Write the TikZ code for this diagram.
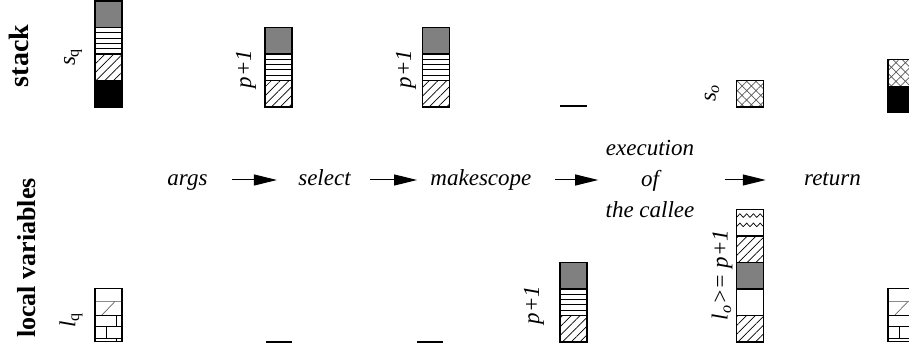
\documentclass[tikz,border=0pt]{standalone}
\usepackage{fontspec}
\setmainfont{Liberation Serif}
\usetikzlibrary{calc, positioning, arrows.meta, patterns.meta}
\tikzset{
    corners/.style={insert path={(path picture bounding box.north west) coordinate (pp1) (path picture bounding box.south east) coordinate (pp2)}},
    seg/.style={rectangle, draw=black, line width=0.55pt, inner sep=0pt, outer sep=0pt, minimum width=13.5pt, minimum height=13.25pt},
    greyseg/.style={seg, fill=black!50},
    blackseg/.style={seg, fill=black},
    plainseg/.style={seg, fill=white},
    hatchseg/.style={seg, pattern={Lines[angle=45, distance=3.1pt, line width=0.35pt]}},
    crossseg/.style={seg, pattern={Hatch[angle=45, distance=3.3pt, line width=0.35pt]}, pattern color=black!65},
    barseg/.style={seg, path picture={
        \path[corners];
        \foreach \k in {0.2,0.4,0.6,0.8}
            \draw[line width=0.5pt] ($(pp1)!\k!(pp1|-pp2)$) -- ($(pp2|-pp1)!\k!(pp2)$);
    }},
    waveseg/.style={seg, path picture={
        \path[corners];
        \foreach \r in {0.3,0.65}
            \draw[line width=0.35pt] ($(pp1)!\r!(pp1|-pp2)$) \foreach \i in {1,...,4} { -- ++(1.6875pt,1.8pt) -- ++(1.6875pt,-1.8pt) };
    }},
    wallseg/.style={seg, path picture={
        \path[corners];
        \draw[black!45, line width=0.5pt] ($(pp1)!0.48!(pp1|-pp2)$) -- ($(pp2|-pp1)!0.48!(pp2)$);
        \draw[black!60, line width=0.35pt] ($(pp1)!0.74!(pp2|-pp1)+(0,-6.36pt)$) -- ($(pp1|-pp2)!0.25!(pp2)$);
    }},
    brickseg/.style={seg, path picture={
        \path[corners];
        \draw[line width=0.5pt] ($(pp1)!0.43!(pp1|-pp2)$) -- ($(pp2|-pp1)!0.43!(pp2)$)
            ($(pp1)!0.87!(pp1|-pp2)$) -- ($(pp2|-pp1)!0.87!(pp2)$)
            ($(pp1)!0.8!(pp2|-pp1)$) -- ++(0,-5.7pt)
            ($(pp1)!0.43!(pp2|-pp1)+(0,-5.7pt)$) -- ++(0,-5.83pt)
            ($(pp1)!0.8!(pp2|-pp1)+(0,-11.53pt)$) -- ++(0,-1.72pt);
    }},
    nil/.style={line width=0.6pt},
    steptext/.style={inner sep=0pt, anchor=base, font=\fontsize{11.5}{15.5}\selectfont\itshape, text height=7.8pt, text depth=1.8pt},
    callee/.style={inner sep=0pt, align=center, font=\fontsize{11.5}{15.5}\selectfont\itshape},
    lbl/.style={rotate=90, inner sep=0pt, font=\fontsize{11.5}{14}\selectfont\itshape},
    rowlabel/.style={rotate=90, inner sep=0pt, font=\bfseries\fontsize{13}{15}\selectfont},
    flow/.style={-{Triangle[length=11.5pt, width=5.5pt]}, line width=0.5pt}
}

\begin{document}
\begin{tikzpicture}[x=0.5pt, y=-0.5pt]
    \clip (0,0) rectangle (909,352);

    % row labels
    \node[rowlabel, font=\bfseries\fontsize{14}{16}\selectfont] (stacklbl) at (19,56) {stack};
    \node[rowlabel] (locallbl) at (27,258) {local variables};

    % phases
    \node[steptext] (args) at (187.5,186) {args};
    \node[steptext, base right=45pt of args] (select) {select};
    \node[steptext, base right=39.5pt of select] (makescope) {makescope};
    \node[callee] (exec) at (650,179) {execution\\of\\the callee};
    \node[steptext] (ret) at (832.5,186) {return};

    \draw[flow, shorten <=12pt, shorten >=10.5pt] (args) -- (select);
    \draw[flow, shorten <=9.5pt, shorten >=6.5pt] (select) -- (makescope);
    \draw[flow, shorten <=11.5pt, shorten >=3.5pt] (makescope) -- (makescope -| exec.west);
    \draw[flow, shorten <=15pt, shorten >=19pt] (exec.east |- ret) -- (ret);

    % stack before the call
    \node[blackseg] (sq4) at (108.5,93.75) {};
    \node[hatchseg, above=0pt of sq4] (sq3) {};
    \node[barseg, above=0pt of sq3] (sq2) {};
    \node[greyseg, above=0pt of sq2] (sq1) {};
    \node[lbl] (sqlbl) at (73,57) {s\textsubscript{\upshape q}};

    % stack at select
    \node[hatchseg] (sa3) at (278.5,93.75) {};
    \node[barseg, above=0pt of sa3] (sa2) {};
    \node[greyseg, above=0pt of sa2] (sa1) {};
    \node[lbl] (salbl) at (246,69) {p+1};

    % stack at makescope
    \node[hatchseg] (sb3) at (436,93.75) {};
    \node[barseg, above=0pt of sb3] (sb2) {};
    \node[greyseg, above=0pt of sb2] (sb1) {};
    \node[lbl] (sblbl) at (406,69) {p+1};

    % empty stack during execution
    \coordinate (se1) at (560,106);
    \coordinate (se2) at (587,106);
    \draw[nil] (se1) -- (se2);

    % stack at return
    \node[crossseg] (so1) at (750,93.75) {};
    \node[lbl] (solbl) at (712,93) {s\textsubscript{o}};

    % stack after return
    \node[blackseg] (sr2) at (901.5,99.7) {};
    \node[crossseg, above=0pt of sr2] (sr1) {};

    % locals before the call
    \node[brickseg] (lq2) at (108.5,328.5) {};
    \node[wallseg, above=0pt of lq2] (lq1) {};
    \node[lbl] (lqlbl) at (71,320) {l\textsubscript{\upshape q}};

    % empty locals at select and makescope
    \coordinate (la1) at (266,342);
    \coordinate (la2) at (292,342);
    \draw[nil] (la1) -- (la2);
    \coordinate (lb1) at (417,342);
    \coordinate (lb2) at (443,342);
    \draw[nil] (lb1) -- (lb2);

    % locals during execution
    \node[hatchseg] (lp3) at (573.5,328.7) {};
    \node[barseg, above=0pt of lp3] (lp2) {};
    \node[greyseg, above=0pt of lp2] (lp1) {};
    \node[lbl] (lplbl) at (534,305) {p+1};

    % locals at return
    \node[hatchseg] (lo5) at (750,328.7) {};
    \node[plainseg, above=0pt of lo5] (lo4) {};
    \node[greyseg, above=0pt of lo4] (lo3) {};
    \node[hatchseg, above=0pt of lo3] (lo2) {};
    \node[waveseg, above=0pt of lo2] (lo1) {};
    \node[lbl] (lolbl) at (722,275) {l\textsubscript{o}>= p+1};

    % locals after return
    \node[brickseg] (lr2) at (901.5,328.5) {};
    \node[wallseg, above=0pt of lr2] (lr1) {};
\end{tikzpicture}
\end{document}
